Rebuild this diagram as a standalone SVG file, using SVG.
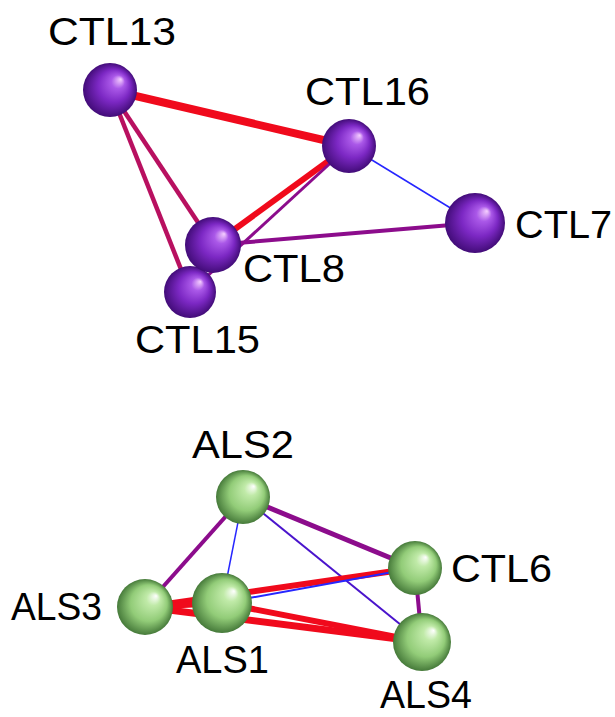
<svg xmlns="http://www.w3.org/2000/svg" width="615" height="717" viewBox="0 0 615 717">
  <defs>
    <radialGradient id="purpleBall" cx="0.5" cy="0.5" r="0.5" fx="0.7" fy="0.3">
      <stop offset="0" stop-color="#f6d0ff"/>
      <stop offset="0.25" stop-color="#aa58e8"/>
      <stop offset="0.6" stop-color="#7c28c4"/>
      <stop offset="1" stop-color="#420c78"/>
    </radialGradient>
    <radialGradient id="greenBall" cx="0.5" cy="0.5" r="0.5" fx="0.7" fy="0.3">
      <stop offset="0" stop-color="#ffffff"/>
      <stop offset="0.25" stop-color="#c0eaa8"/>
      <stop offset="0.65" stop-color="#92cc78"/>
      <stop offset="1" stop-color="#467a3a"/>
    </radialGradient>
  </defs>
  <style>
    .edge { fill: none; stroke-linecap: butt; }
    .red { stroke: #f00a1c; }
    .crimson { stroke: #b81060; }
    .purple { stroke: #8c0c8c; }
    .blue { stroke: #2626ff; }
    .violet { stroke: #4a14cc; }
    .ball-p { fill: url(#purpleBall); }
    .ball-g { fill: url(#greenBall); }
    .label { font-family: "Liberation Sans", Arial, sans-serif; font-size: 38px; fill: #000000; }
  </style>

  <!-- bonds -->
  <g id="connectors">
    <line class="edge red" x1="110" y1="90" x2="349" y2="146" stroke-width="8"/>
    <line class="edge crimson" x1="110" y1="90" x2="213" y2="245" stroke-width="4.5"/>
    <line class="edge crimson" x1="110" y1="90" x2="190" y2="292" stroke-width="4.5"/>
    <line class="edge red" x1="349" y1="146" x2="213" y2="245" stroke-width="6"/>
    <line class="edge purple" x1="349" y1="146" x2="190" y2="292" stroke-width="3"/>
    <line class="edge purple" x1="475" y1="223" x2="213" y2="245" stroke-width="4"/>
    <line class="edge blue" x1="349" y1="146" x2="475" y2="223" stroke-width="1.5"/>
    <line class="edge blue" x1="213" y1="245" x2="190" y2="292" stroke-width="1.5"/>

    <line class="edge purple" x1="243" y1="497" x2="415" y2="568" stroke-width="5"/>
    <line class="edge purple" x1="243" y1="497" x2="145" y2="607" stroke-width="4"/>
    <line class="edge blue" x1="243" y1="497" x2="222" y2="603" stroke-width="1.5"/>
    <line class="edge violet" x1="243" y1="497" x2="422" y2="642" stroke-width="2"/>
    <line class="edge purple" x1="415" y1="568" x2="422" y2="642" stroke-width="4"/>
    <line class="edge red" x1="145" y1="607" x2="415" y2="568" stroke-width="6"/>
    <line class="edge red" x1="145" y1="607" x2="422" y2="642" stroke-width="7"/>
    <line class="edge red" x1="222" y1="603" x2="422" y2="642" stroke-width="6"/>
    <line class="edge red" x1="145" y1="607" x2="222" y2="603" stroke-width="6"/>
    <line class="edge blue" x1="222" y1="603" x2="415" y2="568" stroke-width="2"/>
  </g>

  <!-- purple nodes -->
  <g id="CTL13">
    <circle class="ball-p" cx="110" cy="90" r="27"/>
    <text class="label" x="48" y="45" textLength="128" lengthAdjust="spacingAndGlyphs">CTL13</text>
  </g>
  <g id="CTL16">
    <circle class="ball-p" cx="349" cy="146" r="27"/>
    <text class="label" x="305" y="105" textLength="125" lengthAdjust="spacingAndGlyphs">CTL16</text>
  </g>
  <g id="CTL7">
    <circle class="ball-p" cx="475" cy="223" r="30"/>
    <text class="label" x="515" y="238" textLength="97" lengthAdjust="spacingAndGlyphs">CTL7</text>
  </g>
  <g id="CTL15">
    <circle class="ball-p" cx="190" cy="292" r="26"/>
    <text class="label" x="135" y="353" textLength="125" lengthAdjust="spacingAndGlyphs">CTL15</text>
  </g>
  <g id="CTL8">
    <circle class="ball-p" cx="213" cy="245" r="28"/>
    <text class="label" x="243" y="282" textLength="102" lengthAdjust="spacingAndGlyphs">CTL8</text>
  </g>

  <!-- green nodes -->
  <g id="ALS2">
    <circle class="ball-g" cx="243" cy="497" r="27"/>
    <text class="label" x="192" y="458" textLength="102" lengthAdjust="spacingAndGlyphs">ALS2</text>
  </g>
  <g id="CTL6">
    <circle class="ball-g" cx="415" cy="568" r="27"/>
    <text class="label" x="451" y="582" textLength="101" lengthAdjust="spacingAndGlyphs">CTL6</text>
  </g>
  <g id="ALS4">
    <circle class="ball-g" cx="422" cy="642" r="29"/>
    <text class="label" x="380" y="708" textLength="92" lengthAdjust="spacingAndGlyphs">ALS4</text>
  </g>
  <g id="ALS3">
    <circle class="ball-g" cx="145" cy="607" r="28"/>
    <text class="label" x="11" y="620" textLength="91" lengthAdjust="spacingAndGlyphs">ALS3</text>
  </g>
  <g id="ALS1">
    <circle class="ball-g" cx="222" cy="603" r="30"/>
    <text class="label" x="176" y="673" textLength="93" lengthAdjust="spacingAndGlyphs">ALS1</text>
  </g>
</svg>
